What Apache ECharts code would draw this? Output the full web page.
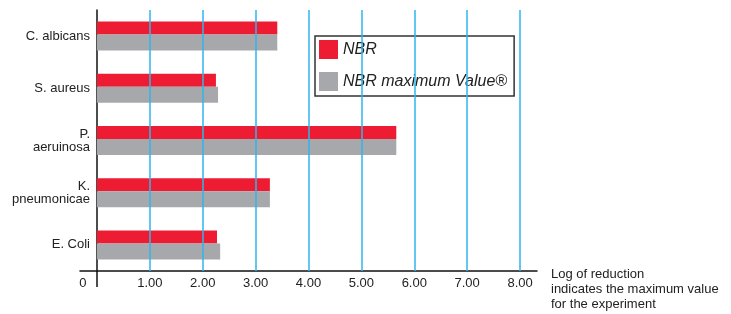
<!DOCTYPE html>
<html>
<head>
<meta charset="utf-8">
<script src="https://cdn.jsdelivr.net/npm/echarts@6/dist/echarts.min.js"></script>
<style>
	html, body { margin: 0; padding: 0; background: #fff; }
	#chart { width: 731px; height: 314px; }
</style>
</head>
<body>
<div id="chart"></div>
<script>
const categories = ["C. albicans", "S. aureus", "P.\naeruinosa", "K.\npneumonicae", "E. Coli"];
const nbrValues = [3.41, 2.25, 5.66, 3.27, 2.27];
const maxValues = [3.41, 2.29, 5.66, 3.27, 2.33];
const tickValues = [0, 1, 2, 3, 4, 5, 6, 7, 8];
const gridValues = [1, 2, 3, 4, 5, 6, 7, 8];

const chart = echarts.init(document.getElementById("chart"));

const font = "Liberation Sans, Arial, sans-serif";

const option = {
	animation: false,
	textStyle: { fontFamily: font },
	grid: {
		left: 80,
		right: 194,
		top: 10,
		bottom: 43,
		containLabel: false,
		outerBoundsMode: "none"
	},
	legend: {
		orient: "vertical",
		left: 315,
		top: 36,
		backgroundColor: "#fff",
		borderColor: "#333",
		borderWidth: 1.5,
		borderRadius: 0,
		padding: [4, 7, 5, 4],
		itemWidth: 19,
		itemHeight: 19,
		itemGap: 13,
		icon: "rect",
		textStyle: {
			fontFamily: font,
			fontStyle: "italic",
			fontSize: 16,
			color: "#222"
		},
		data: ["NBR", "NBR maximum Value®"]
	},
	xAxis: {
		type: "value",
		min: -0.32,
		max: 8.32,
		name: "Log of reduction\nindicates the maximum value\nfor the experiment",
		nameLocation: "end",
		nameGap: 14,
		nameTextStyle: {
			fontFamily: font,
			fontSize: 13,
			lineHeight: 15,
			color: "#222",
			align: "left",
			verticalAlign: "top",
			padding: [-4, 0, 0, 0]
		},
		axisLine: {
			show: true,
			onZero: false,
			lineStyle: { color: "#111", width: 1.5 }
		},
		axisTick: {
			show: true,
			customValues: [0],
			length: 16,
			lineStyle: { color: "#111", width: 1.5 }
		},
		axisLabel: {
			customValues: tickValues,
			margin: 6,
			fontSize: 13,
			color: "#222",
			formatter(v) {
				return v === 0 ? "{z|0}" : v.toFixed(2);
			},
			rich: {
				z: { fontSize: 13, color: "#222", padding: [0, 28, 0, 0] }
			}
		},
		splitLine: { show: false }
	},
	yAxis: {
		type: "category",
		inverse: true,
		data: categories,
		axisLine: {
			show: true,
			onZero: true,
			lineStyle: { color: "#111", width: 1.5 }
		},
		axisTick: { show: false },
		axisLabel: {
			margin: -10,
			fontSize: 13,
			lineHeight: 13,
			color: "#222",
			align: "right"
		}
	},
	series: [
		{
			name: "NBR",
			type: "bar",
			data: nbrValues,
			barWidth: 13,
			barGap: 0,
			itemStyle: { color: "#ee1c33" },
			markLine: {
				silent: true,
				symbol: "none",
				label: { show: false },
				lineStyle: { color: "#2eb6ec", width: 1.5, type: "solid" },
				data: gridValues.map(v => ({ xAxis: v }))
			},
			z: 3
		},
		{
			name: "NBR maximum Value®",
			type: "bar",
			data: maxValues,
			barWidth: 16,
			barGap: 0,
			itemStyle: { color: "#a7a8ab" },
			z: 3
		}
	]
};

option && chart.setOption(option);
</script>
</body>
</html>
